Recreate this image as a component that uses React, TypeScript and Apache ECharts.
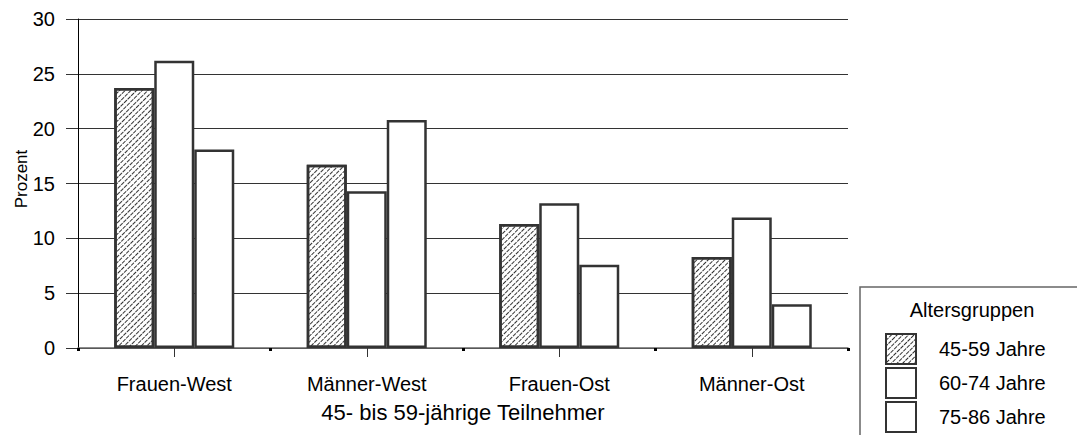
import React, { useEffect, useRef } from "react";
import * as echarts from "echarts";

const categories = ["Frauen-West", "Männer-West", "Frauen-Ost", "Männer-Ost"];
const seriesNames = ["45-59 Jahre", "60-74 Jahre", "75-86 Jahre"];
const values4559 = [23.7, 16.7, 11.3, 8.3];
const values6074 = [26.2, 14.3, 13.2, 11.9];
const values7586 = [18.1, 20.8, 7.6, 4.0];
const yTicks = { min: 0, max: 30, interval: 5 };

const FONT = "'Liberation Sans', Arial, sans-serif";

export default function App() {
  const ref = useRef<HTMLDivElement>(null);
  useEffect(() => {
    if (!ref.current) return;
    const chart = echarts.init(ref.current, undefined, { renderer: "svg" });
    const border = { borderColor: "#333", borderWidth: 2.5 };
    const hatch = {
      color: "#333",
      backgroundColor: "#fff",
      symbol: "rect",
      dashArrayX: [[4, 1]],
      dashArrayY: [1, 3],
      rotation: -Math.PI / 4,
      symbolSize: 1,
    };
    const allValues = [values4559, values6074, values7586];
    chart.setOption({
      animation: false,
      backgroundColor: "#fff",
      textStyle: { fontFamily: FONT },
      grid: { left: 78, top: 19, width: 770, height: 329, containLabel: false },
      xAxis: [
        {
          type: "category",
          data: categories,
          axisLine: { show: true, lineStyle: { color: "#666", width: 1.5 } },
          axisTick: { show: true, alignWithLabel: true, length: 9, lineStyle: { color: "#333", width: 1 } },
          axisLabel: { color: "#000", fontSize: 20, margin: 26, fontFamily: FONT },
          name: "45- bis 59-jährige Teilnehmer",
          nameLocation: "middle",
          nameGap: 53,
          nameTextStyle: { color: "#000", fontSize: 22, fontFamily: FONT },
          splitLine: { show: false },
        },
        {
          type: "category",
          data: categories,
          position: "bottom",
          axisLine: { show: false },
          axisTick: { show: true, length: 3, lineStyle: { color: "#000", width: 3 } },
          axisLabel: { show: false },
          splitLine: { show: false },
        },
      ],
      yAxis: {
        type: "value",
        min: yTicks.min,
        max: yTicks.max,
        interval: yTicks.interval,
        axisLine: { show: true, lineStyle: { color: "#000", width: 1 } },
        axisTick: { show: true, length: 12, lineStyle: { color: "#333" } },
        axisLabel: { color: "#000", fontSize: 20, margin: 23, fontFamily: FONT },
        splitLine: { show: true, lineStyle: { color: "#333", width: 1 } },
      },
      legend: {
        orient: "vertical",
        left: 885,
        top: 333,
        padding: 0,
        itemWidth: 30,
        itemHeight: 30,
        itemGap: 2,
        icon: "rect",
        textStyle: { color: "#000", fontSize: 20, fontFamily: FONT, padding: [0, 0, 0, 18] },
        data: seriesNames,
      },
      graphic: [
        {
          type: "rect",
          shape: { x: 860, y: 287, width: 260, height: 200 },
          style: { fill: "none", stroke: "#666", lineWidth: 1.5 },
          z: 10,
        },
        {
          type: "text",
          x: 972,
          y: 310,
          style: { text: "Altersgruppen", fill: "#000", font: `20px ${FONT}`, align: "center", verticalAlign: "middle" },
          z: 10,
        },
        {
          type: "text",
          x: 21,
          y: 179,
          rotation: Math.PI / 2,
          style: { text: "Prozent", fill: "#000", font: `17px ${FONT}`, align: "center", verticalAlign: "middle" },
          z: 10,
        },
      ],
      series: seriesNames.map((name, i) => ({
        name,
        type: "bar",
        xAxisIndex: 0,
        data: allValues[i],
        barWidth: 40,
        barGap: "0%",
        itemStyle: i === 0 ? { color: "#fff", decal: hatch, ...border } : { color: "#fff", ...border },
        emphasis: { disabled: true },
      })),
    });
    return () => chart.dispose();
  }, []);
  return <div ref={ref} style={{ position: "absolute", left: 0, top: 0, width: 1077, height: 435 }} />;
}
